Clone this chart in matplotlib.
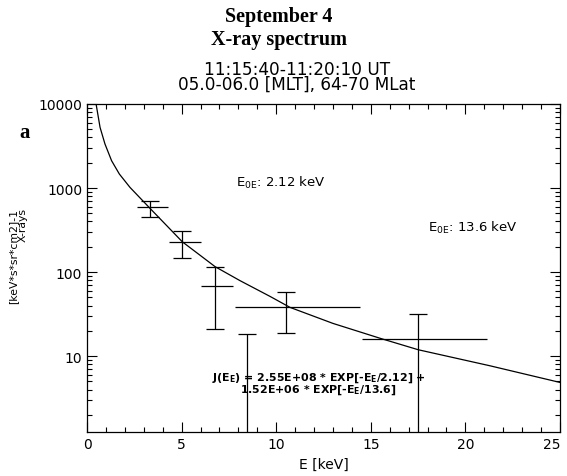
import numpy as np
import matplotlib
matplotlib.use('Agg')
import matplotlib.pyplot as plt
from matplotlib.ticker import MultipleLocator, LogLocator, FixedLocator, FuncFormatter, NullFormatter

plt.rcParams['font.family'] = ['DejaVu Sans']
plt.rcParams['mathtext.default'] = 'regular'

e_mid = [3.33, 5.04, 6.75, 8.47, 10.54, 17.51]
e_lo = [2.66, 4.33, 6.01, 7.70, 7.82, 14.52]
e_hi = [4.30, 6.01, 7.70, 9.30, 14.43, 21.16]
flux = [589, 229, 68, 1.0, 38, 15.9]
flux_lo = [455, 146, 21, 0.5, 18.6, 0.5]
flux_hi = [706, 310, 116, 18.3, 58.2, 31.6]

# --- fitted curve, points ---
fit_e = [0.40, 0.48, 0.69, 0.95, 1.30, 1.71, 2.27, 3.28, 5.04, 6.77, 8.09,
         9.67, 10.73, 13.0, 15.49, 17.51, 21.3, 25.0]
fit_j = [11500, 10000, 5270, 3340, 2113, 1468, 1019, 589, 229, 116, 79,
         51.4, 38, 24.5, 16.3, 11.9, 7.67, 4.86]

xticks = [0, 5, 10, 15, 20, 25]
yticks = [10, 100, 1000, 10000]

fig = plt.figure(figsize=(5.67, 4.77), dpi=100)
ax = fig.add_axes([87 / 567, 1 - 433 / 477, (560 - 87) / 567, (433 - 105) / 477])

ax.plot(fit_e, fit_j, color='black', lw=0.9)

xm = np.array(e_mid)
ym = np.array(flux)
xerr = [xm - np.array(e_lo), np.array(e_hi) - xm]
yerr = [ym - np.array(flux_lo), np.array(flux_hi) - ym]
# energy bins: plain horizontal lines, no caps
ax.errorbar(xm, ym, xerr=xerr, fmt='none', ecolor='black',
            elinewidth=0.9, capsize=0)
# flux uncertainty: vertical lines with caps
ax.errorbar(xm, ym, yerr=yerr, fmt='none', ecolor='black',
            elinewidth=0.9, capsize=6.5, capthick=0.9)

ax.set_yscale('log')
ax.set_xlim(0, 25)
ax.set_ylim(1.25, 10000)

ax.xaxis.set_major_locator(FixedLocator(xticks))
ax.xaxis.set_minor_locator(MultipleLocator(1))
ax.yaxis.set_major_locator(FixedLocator(yticks))
ax.yaxis.set_major_formatter(FuncFormatter(lambda v, p: '%d' % v))
ax.yaxis.set_minor_locator(LogLocator(base=10, subs=np.arange(2, 10)))
ax.yaxis.set_minor_formatter(NullFormatter())
ax.tick_params(which='both', direction='in', top=True, right=True, width=0.8,
               labelsize=10)
ax.tick_params(which='major', length=7)
ax.tick_params(which='minor', length=3.5)
for s in ax.spines.values():
    s.set_linewidth(0.9)

ax.set_xlabel('E [keV]', fontsize=10, labelpad=4)

# keep the last x tick label inside the figure
fig.canvas.draw()
for lab in ax.get_xticklabels():
    if lab.get_text() == '25':
        lab.set_horizontalalignment('right')

# annotations
ax.text(7.88, 1178, 'E$_{0E}$: 2.12 keV', fontsize=9.5, va='center')
ax.text(18.02, 344, 'E$_{0E}$: 13.6 keV', fontsize=9.5, va='center')
ax.text(12.24, 4.8, 'J(E$_E$) = 2.55E+08 * EXP[-E$_E$/2.12] +\n'
        '1.52E+06 * EXP[-E$_E$/13.6]', fontsize=7.9, fontweight='bold',
        va='center', ha='center', multialignment='center', linespacing=0.85)

# titles
fig.text(279 / 567, 1 - 22 / 477, 'September 4', ha='center', va='baseline',
         fontsize=14.5, fontweight='bold', family='Liberation Serif')
fig.text(279 / 567, 1 - 45 / 477, 'X-ray spectrum', ha='center', va='baseline',
         fontsize=14.5, fontweight='bold', family='Liberation Serif')
fig.text(297 / 567, 1 - 90 / 477, '11:15:40-11:20:10 UT\n05.0-06.0 [MLT], 64-70 MLat',
         ha='center', va='baseline', fontsize=12.2, linespacing=0.8)

fig.text(25 / 567, 1 - 138 / 477, 'a', ha='center', va='baseline', fontsize=15,
         fontweight='bold', family='Liberation Serif')

fig.text(18 / 567, 1 - 256 / 477, '[keV*s*sr*cm2]-1\nX-rays', rotation=90,
         ha='center', va='center', multialignment='right', fontsize=7.8,
         linespacing=0.9)

fig.savefig('out.png', dpi=100)
